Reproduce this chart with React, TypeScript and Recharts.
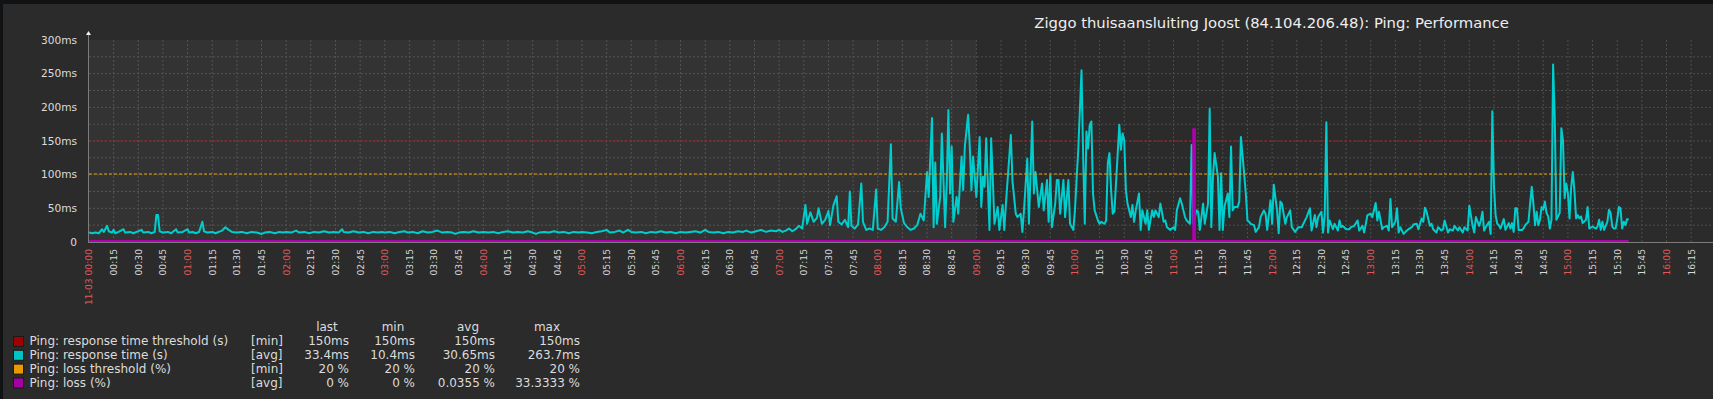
import { LineChart, Line, XAxis, YAxis, CartesianGrid, ReferenceArea } from 'recharts';

const FONT = '"DejaVu Sans", Verdana, sans-serif';

// Ping: response time (ms) per hour: [time, value]
const rt00: [string, number][] = [
  ['00:00', 14], ['00:02', 13], ['00:04', 14], ['00:06', 13], ['00:08', 19], ['00:09', 15], ['00:11', 24], ['00:12', 16],
  ['00:14', 14], ['00:15', 18], ['00:16', 13], ['00:18', 15], ['00:21', 19], ['00:22', 14], ['00:25', 15], ['00:27', 13],
  ['00:29', 15], ['00:32', 18], ['00:33', 14], ['00:36', 15], ['00:38', 13], ['00:40', 15], ['00:41', 40], ['00:42', 40],
  ['00:43', 16], ['00:45', 14], ['00:48', 15], ['00:50', 13], ['00:53', 19], ['00:54', 14], ['00:57', 15],
];
const rt01: [string, number][] = [
  ['01:00', 19], ['01:01', 14], ['01:03', 15], ['01:05', 13], ['01:07', 15], ['01:09', 30], ['01:10', 16], ['01:12', 14],
  ['01:15', 15], ['01:17', 13], ['01:19', 15], ['01:21', 17], ['01:23', 22], ['01:25', 18], ['01:27', 15], ['01:30', 14],
  ['01:33', 15], ['01:36', 13], ['01:39', 15], ['01:42', 14], ['01:45', 12], ['01:47', 14], ['01:50', 15], ['01:53', 13],
  ['01:56', 15], ['01:58', 14],
];
const rt02: [string, number][] = [
  ['02:00', 15], ['02:03', 14], ['02:06', 17], ['02:08', 14], ['02:11', 15], ['02:14', 13], ['02:17', 15], ['02:20', 14],
  ['02:23', 16], ['02:26', 14], ['02:29', 15], ['02:32', 14], ['02:34', 19], ['02:35', 15], ['02:38', 14], ['02:41', 16],
  ['02:44', 14], ['02:47', 15], ['02:50', 13], ['02:53', 15], ['02:56', 14], ['02:58', 15],
];
const rt03: [string, number][] = [
  ['03:00', 14], ['03:03', 15], ['03:06', 13], ['03:09', 15], ['03:12', 16], ['03:14', 14], ['03:17', 15], ['03:20', 13],
  ['03:23', 16], ['03:26', 14], ['03:29', 15], ['03:32', 17], ['03:35', 14], ['03:38', 15], ['03:41', 14], ['03:43', 12],
  ['03:45', 14], ['03:48', 15], ['03:51', 14], ['03:54', 16], ['03:57', 14],
];
const rt04: [string, number][] = [
  ['04:00', 15], ['04:03', 14], ['04:06', 15], ['04:09', 13], ['04:12', 15], ['04:15', 16], ['04:18', 14], ['04:21', 15],
  ['04:24', 14], ['04:27', 16], ['04:30', 14], ['04:32', 12], ['04:34', 14], ['04:37', 15], ['04:40', 14], ['04:43', 16],
  ['04:46', 14], ['04:49', 15], ['04:52', 13], ['04:55', 15], ['04:58', 14],
];
const rt05: [string, number][] = [
  ['05:00', 15], ['05:03', 14], ['05:06', 13], ['05:09', 15], ['05:12', 16], ['05:15', 18], ['05:17', 14], ['05:20', 15],
  ['05:23', 17], ['05:25', 14], ['05:28', 18], ['05:30', 15], ['05:33', 14], ['05:36', 15], ['05:39', 13], ['05:42', 15],
  ['05:45', 14], ['05:48', 16], ['05:51', 14], ['05:54', 15], ['05:57', 13],
];
const rt06: [string, number][] = [
  ['06:00', 15], ['06:03', 14], ['06:06', 15], ['06:09', 16], ['06:12', 14], ['06:15', 18], ['06:17', 15], ['06:20', 14],
  ['06:23', 15], ['06:26', 13], ['06:29', 15], ['06:32', 14], ['06:35', 16], ['06:38', 15], ['06:40', 17], ['06:43', 14],
  ['06:46', 16], ['06:49', 18], ['06:52', 15], ['06:55', 17], ['06:58', 16],
];
const rt07: [string, number][] = [
  ['07:00', 18], ['07:02', 15], ['07:04', 17], ['07:06', 20], ['07:08', 16], ['07:10', 19], ['07:12', 24], ['07:14', 20],
  ['07:16', 55], ['07:17', 27], ['07:19', 44], ['07:21', 30], ['07:23', 36], ['07:24', 50], ['07:26', 27], ['07:28', 33],
  ['07:30', 46], ['07:31', 25], ['07:33', 54], ['07:35', 68], ['07:36', 30], ['07:38', 26], ['07:40', 33], ['07:42', 22],
  ['07:43', 75], ['07:44', 24], ['07:46', 20], ['07:48', 26], ['07:50', 87], ['07:51', 30], ['07:53', 18], ['07:55', 20],
  ['07:57', 18], ['07:59', 78],
];
const rt08: [string, number][] = [
  ['08:00', 20], ['08:02', 18], ['08:04', 22], ['08:06', 30], ['08:08', 145], ['08:09', 35], ['08:11', 30], ['08:13', 89],
  ['08:14', 50], ['08:16', 28], ['08:18', 22], ['08:20', 18], ['08:22', 20], ['08:24', 25], ['08:26', 42], ['08:28', 32],
  ['08:30', 104], ['08:31', 67], ['08:33', 184], ['08:34', 22], ['08:35', 118], ['08:36', 27], ['08:38', 67], ['08:39', 161],
  ['08:41', 22], ['08:42', 87], ['08:43', 196], ['08:44', 72], ['08:45', 142], ['08:46', 30], ['08:48', 67], ['08:49', 42],
  ['08:51', 127], ['08:52', 77], ['08:53', 142], ['08:55', 189], ['08:56', 142], ['08:57', 77], ['08:58', 127], ['08:59', 97],
];
const rt09: [string, number][] = [
  ['09:00', 67], ['09:02', 156], ['09:03', 52], ['09:04', 97], ['09:05', 82], ['09:06', 154], ['09:08', 18], ['09:09', 154],
  ['09:10', 95], ['09:11', 27], ['09:13', 52], ['09:14', 18], ['09:16', 55], ['09:17', 18], ['09:18', 57], ['09:21', 159],
  ['09:22', 90], ['09:24', 42], ['09:25', 37], ['09:27', 42], ['09:28', 15], ['09:29', 47], ['09:31', 124], ['09:32', 27],
  ['09:34', 179], ['09:35', 72], ['09:36', 104], ['09:38', 52], ['09:40', 87], ['09:41', 47], ['09:43', 92], ['09:44', 30],
  ['09:45', 99], ['09:46', 22], ['09:48', 57], ['09:49', 92], ['09:50', 92], ['09:51', 42], ['09:53', 92], ['09:54', 37],
  ['09:56', 92], ['09:57', 27], ['09:59', 18],
];
const rt10: [string, number][] = [
  ['10:00', 47], ['10:01', 92], ['10:02', 136], ['10:04', 255], ['10:05', 127], ['10:06', 27], ['10:07', 164], ['10:08', 139],
  ['10:09', 174], ['10:10', 179], ['10:11', 72], ['10:12', 47], ['10:14', 32], ['10:15', 27], ['10:16', 30], ['10:18', 27],
  ['10:19', 32], ['10:20', 117], ['10:21', 132], ['10:22', 77], ['10:23', 42], ['10:24', 45], ['10:25', 87], ['10:27', 174],
  ['10:28', 137], ['10:29', 161], ['10:30', 151], ['10:31', 77], ['10:32', 57], ['10:34', 37], ['10:35', 55], ['10:36', 30],
  ['10:37', 47], ['10:39', 72], ['10:40', 18], ['10:41', 47], ['10:43', 27], ['10:44', 47], ['10:45', 18], ['10:47', 47],
  ['10:48', 37], ['10:49', 47], ['10:51', 37], ['10:52', 57], ['10:54', 30], ['10:55', 32], ['10:56', 22], ['10:58', 18],
];
const rt11: [string, number][] = [
  ['11:00', 22], ['11:01', 18], ['11:02', 47], ['11:04', 65], ['11:05', 57], ['11:07', 37], ['11:08', 32], ['11:10', 27],
  ['11:11', 144], ['11:12', 27], ['11:14', 47], ['11:15', 45], ['11:16', 18], ['11:18', 57], ['11:19', 27], ['11:21', 57],
  ['11:22', 198], ['11:23', 22], ['11:24', 97], ['11:25', 132], ['11:27', 97], ['11:28', 18], ['11:29', 102], ['11:30', 18],
  ['11:31', 52], ['11:33', 72], ['11:34', 37], ['11:35', 142], ['11:36', 47], ['11:37', 52], ['11:39', 52], ['11:40', 60],
  ['11:41', 156], ['11:42', 129], ['11:44', 72], ['11:45', 32], ['11:46', 30], ['11:47', 27], ['11:49', 25], ['11:50', 15],
  ['11:52', 22], ['11:53', 37], ['11:55', 47], ['11:56', 42], ['11:57', 18], ['11:59', 62],
];
const rt12: [string, number][] = [
  ['12:00', 27], ['12:01', 85], ['12:03', 47], ['12:04', 13], ['12:05', 60], ['12:06', 57], ['12:08', 27], ['12:09', 37],
  ['12:11', 47], ['12:12', 22], ['12:14', 15], ['12:16', 22], ['12:18', 22], ['12:21', 37], ['12:23', 50], ['12:24', 17],
  ['12:26', 40], ['12:27', 22], ['12:28', 37], ['12:30', 45], ['12:31', 14], ['12:32', 40], ['12:33', 178], ['12:34', 14],
  ['12:35', 32], ['12:37', 19], ['12:38', 27], ['12:40', 17], ['12:41', 32], ['12:42', 22], ['12:43', 24], ['12:45', 19],
  ['12:47', 19], ['12:48', 22], ['12:50', 24], ['12:52', 32], ['12:53', 17], ['12:55', 24], ['12:56', 14], ['12:58', 40],
];
const rt13: [string, number][] = [
  ['13:00', 42], ['13:01', 37], ['13:03', 58], ['13:04', 32], ['13:05', 45], ['13:07', 19], ['13:08', 22], ['13:10', 24],
  ['13:11', 17], ['13:12', 64], ['13:13', 22], ['13:15', 30], ['13:16', 50], ['13:17', 14], ['13:18', 22], ['13:20', 12],
  ['13:22', 17], ['13:23', 19], ['13:25', 22], ['13:26', 26], ['13:28', 27], ['13:29', 19], ['13:31', 35], ['13:32', 30],
  ['13:33', 51], ['13:34', 45], ['13:36', 24], ['13:37', 27], ['13:38', 19], ['13:40', 14], ['13:41', 22], ['13:43', 17],
  ['13:44', 19], ['13:45', 32], ['13:47', 14], ['13:48', 19], ['13:50', 17], ['13:51', 24], ['13:53', 17], ['13:54', 22],
  ['13:56', 14], ['13:57', 22], ['13:59', 17],
];
const rt14: [string, number][] = [
  ['14:00', 54], ['14:02', 24], ['14:03', 14], ['14:04', 37], ['14:06', 24], ['14:07', 32], ['14:08', 45], ['14:09', 17],
  ['14:10', 22], ['14:12', 30], ['14:13', 12], ['14:14', 194], ['14:15', 83], ['14:16', 40], ['14:17', 27], ['14:18', 25],
  ['14:19', 20], ['14:21', 34], ['14:22', 18], ['14:24', 28], ['14:25', 20], ['14:26', 28], ['14:27', 15], ['14:28', 50],
  ['14:29', 50], ['14:30', 18], ['14:32', 18], ['14:33', 20], ['14:34', 25], ['14:36', 30], ['14:37', 57], ['14:38', 82],
  ['14:39', 57], ['14:40', 25], ['14:41', 45], ['14:42', 25], ['14:43', 33], ['14:44', 52], ['14:45', 48], ['14:46', 60],
  ['14:47', 43], ['14:48', 38], ['14:49', 20], ['14:50', 33], ['14:51', 263.7], ['14:52', 184], ['14:53', 33], ['14:54', 38],
  ['14:55', 43], ['14:56', 169], ['14:57', 151], ['14:58', 65], ['14:59', 87],
];
const rt15: [string, number][] = [
  ['15:00', 72], ['15:01', 35], ['15:02', 82], ['15:03', 104], ['15:04', 75], ['15:05', 35], ['15:06', 40], ['15:07', 35],
  ['15:08', 38], ['15:09', 28], ['15:11', 33], ['15:12', 52], ['15:13', 20], ['15:15', 23], ['15:17', 20], ['15:18', 23],
  ['15:19', 33], ['15:20', 18], ['15:21', 30], ['15:22', 18], ['15:24', 30], ['15:25', 48], ['15:26', 43], ['15:27', 23],
  ['15:28', 20], ['15:29', 20], ['15:30', 33], ['15:31', 52], ['15:32', 50], ['15:33', 20], ['15:34', 30], ['15:35', 25],
  ['15:36', 34], ['15:37', 33.4],
];

// Ping: loss (%) - one burst of 33.33 % around 11:12
const lossPct: [string, number][] = [
  ['00:00', 0], ['11:12', 0], ['11:12', 33.3333], ['11:13', 33.3333], ['11:13', 0], ['15:37', 0],
];
const rtThreshold: [string, number][] = [['00:00', 150], ['15:00', 150]];
const lossThreshold: [string, number][] = [['00:00', 20], ['15:00', 20]];

const dayLabel = '11-03';
const title = 'Ziggo thuisaansluiting Joost (84.104.206.48): Ping: Performance';
const yTicks = [0, 50, 100, 150, 200, 250, 300];
const yGrid = [25, 50, 75, 100, 125, 150, 175, 200, 225, 250, 275];
const xTicks = Array.from({ length: 66 }, (_, i) => i * 15);

const legendNames = ['Ping: response time threshold (s)', 'Ping: response time (s)', 'Ping: loss threshold (%)', 'Ping: loss (%)'];
const legendFuncs = ['[min]', '[avg]', '[min]', '[avg]'];
const legendHead = ['last', 'min', 'avg', 'max'];
const legendLast = ['150ms', '33.4ms', '20 %', '0 %'];
const legendMin = ['150ms', '10.4ms', '20 %', '0 %'];
const legendAvg = ['150ms', '30.65ms', '20 %', '0.0355 %'];
const legendMax = ['150ms', '263.7ms', '20 %', '33.3333 %'];

const C_THRESH = '#a81c1c';
const C_RT = '#00cdcd';
const C_LOSS_TH = '#f0a000';
const C_LOSS = '#b000b0';
const swatch = ['#a00000', '#00c4c4', '#e89a00', '#a400a4'];

const toMin = (s: string) => {
  const [h, m, sec = 0] = s.split(':').map(Number);
  return h * 60 + m + sec / 60;
};
const toPoints = (rows: [string, number][]) => rows.map(([t, v]) => ({ t: toMin(t), v }));

const responseData = toPoints([
  ...rt00, ...rt01, ...rt02, ...rt03, ...rt04, ...rt05, ...rt06, ...rt07,
  ...rt08, ...rt09, ...rt10, ...rt11, ...rt12, ...rt13, ...rt14, ...rt15,
]);
const lossData = toPoints(lossPct);
const rtThreshData = toPoints(rtThreshold);
const lossThreshData = toPoints(lossThreshold);

function TimeTick(props: any) {
  const { x, y, payload } = props;
  const m = payload.value as number;
  const hh = String(Math.floor(m / 60)).padStart(2, '0');
  const mm = String(m % 60).padStart(2, '0');
  const label = m === 0 ? `${dayLabel} ${hh}:${mm}` : `${hh}:${mm}`;
  return (
    <text
      transform={`translate(${x + 3.4},${y}) rotate(-90)`}
      textAnchor="end"
      fontSize={9.2}
      fontFamily={FONT}
      fill={m % 60 === 0 ? '#e05a5a' : '#dadada'}
    >
      {label}
    </text>
  );
}

function MsTick(props: any) {
  const { x, y, payload } = props;
  const v = payload.value as number;
  return (
    <text x={x} y={y} dy={3.8} textAnchor="end" fontSize={10.6} fontFamily={FONT} fill="#dcdcdc">
      {v === 0 ? '0' : `${v}ms`}
    </text>
  );
}

const colRight = [349, 415, 495, 580];
const colHead = [327, 393, 468, 547];
const legendCols = [legendLast, legendMin, legendAvg, legendMax];

export default function App() {
  return (
    <div style={{ position: 'fixed', left: 0, top: 0, width: 1713, height: 399, background: '#2b2b2b', overflow: 'hidden' }}>
      <LineChart width={1713} height={399} margin={{ top: 40, right: 0, bottom: 87, left: 0 }}>
        <ReferenceArea x1={0} x2={540} y1={0} y2={300} fill="#ffffff" fillOpacity={0.04} stroke="none" />
        <CartesianGrid
          stroke="#4e4e4e"
          strokeDasharray="2 2"
          horizontalValues={yGrid}
          verticalValues={xTicks.slice(1)}
        />
        <XAxis
          type="number"
          dataKey="t"
          domain={[0, 988.3]}
          allowDataOverflow
          ticks={xTicks}
          interval={0}
          tick={<TimeTick />}
          tickLine={false}
          axisLine={false}
          tickSize={0}
          tickMargin={7}
          height={70}
        />
        <YAxis
          domain={[0, 300]}
          ticks={yTicks}
          interval={0}
          tick={<MsTick />}
          width={89}
          axisLine={false}
          tickLine={false}
          tickSize={0}
          tickMargin={12}
        />
        <YAxis yAxisId="loss" domain={[-0.3, 60]} allowDataOverflow hide />
        <Line data={rtThreshData} dataKey="v" type="linear" stroke={C_THRESH} strokeWidth={1} strokeDasharray="3 2" dot={false} activeDot={false} isAnimationActive={false} />
        <Line data={responseData} dataKey="v" type="linear" stroke={C_RT} strokeWidth={2} strokeLinejoin="round" dot={false} activeDot={false} isAnimationActive={false} />
        <Line data={lossThreshData} yAxisId="loss" dataKey="v" type="linear" stroke={C_LOSS_TH} strokeWidth={1} strokeDasharray="3 2" dot={false} activeDot={false} isAnimationActive={false} />
        <Line data={lossData} yAxisId="loss" dataKey="v" type="linear" stroke={C_LOSS} strokeWidth={2} dot={false} activeDot={false} isAnimationActive={false} />
      </LineChart>
      <svg width={1713} height={399} style={{ position: 'absolute', left: 0, top: 0, pointerEvents: 'none' }}>
        <rect x={0} y={0} width={1713} height={4} fill="#101214" />
        <rect x={0} y={0} width={3} height={399} fill="#101214" />
        <text x={1271.6} y={28} textAnchor="middle" fontSize={14.8} fontFamily={FONT} fill="#eeeeee">{title}</text>
        <line x1={88.5} y1={34} x2={88.5} y2={242} stroke="#7c7c7c" strokeWidth={1} />
        <line x1={88} y1={242.5} x2={1713} y2={242.5} stroke="#7c7c7c" strokeWidth={1} />
        <polygon points="86,35 91,35 88.5,31" fill="#f0f0f0" />
        {legendHead.map((h, i) => (
          <text key={h} x={colHead[i]} y={330.5} textAnchor="middle" fontSize={12} fontFamily={FONT} fill="#dcdcdc">{h}</text>
        ))}
        {legendNames.map((name, r) => {
          const yTop = 336 + r * 13.8;
          const base = yTop + 9.2;
          return (
            <g key={name}>
              <rect x={13.5} y={yTop + 0.5} width={10} height={10} fill={swatch[r]} stroke="#1a1a1a" strokeWidth={1} />
              <text x={29.5} y={base} fontSize={12} fontFamily={FONT} fill="#dcdcdc">{name}</text>
              <text x={251} y={base} fontSize={12} fontFamily={FONT} fill="#dcdcdc">{legendFuncs[r]}</text>
              {legendCols.map((col, c) => (
                <text key={c} x={colRight[c]} y={base} textAnchor="end" fontSize={12} fontFamily={FONT} fill="#dcdcdc">{col[r]}</text>
              ))}
            </g>
          );
        })}
      </svg>
    </div>
  );
}
